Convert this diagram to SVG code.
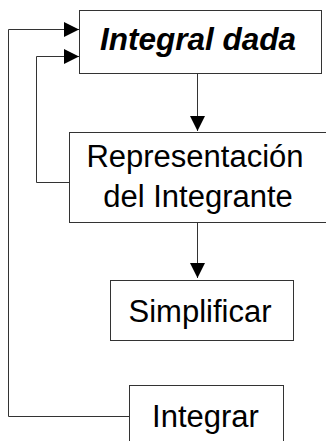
<svg xmlns="http://www.w3.org/2000/svg" width="326" height="441" viewBox="0 0 326 441">
<style>
.box{fill:#fff;stroke:#333;stroke-width:1}
.t{font-family:"Liberation Sans",Arial,sans-serif;font-size:31px;fill:#000;text-anchor:middle}
.b{font-weight:bold;font-style:italic;font-size:31.5px}
.c{fill:none;stroke:#333;stroke-width:1}
</style>
<defs>
<marker id="ah" markerWidth="15" markerHeight="15" refX="15" refY="7.5" orient="auto" markerUnits="userSpaceOnUse">
<path d="M0,0 L15,7.5 L0,15 Z" fill="#000"/>
</marker>
</defs>
<g id="n1"><rect class="box" x="79.5" y="10.5" width="242" height="63"/><text class="t b" x="198" y="50">Integral dada</text></g>
<g id="n2"><rect class="box" x="69.5" y="132.5" width="270" height="90"/><text class="t" x="195" y="167">Representación</text><text class="t" x="198" y="207">del Integrante</text></g>
<g id="n3"><rect class="box" x="110.5" y="280.5" width="183" height="60"/><text class="t" x="200" y="322">Simplificar</text></g>
<g id="n4"><rect class="box" x="129.5" y="385.5" width="154" height="70"/><text class="t" x="205.5" y="427">Integrar</text></g>
<g id="connectors">
<path class="c" d="M197.5,73.5 V131" marker-end="url(#ah)"/>
<path class="c" d="M197.5,222.5 V278" marker-end="url(#ah)"/>
<path class="c" d="M69.5,182.5 H36.5 V56.5 H79" marker-end="url(#ah)"/>
<path class="c" d="M129.5,416.5 H8.5 V29.5 H79" marker-end="url(#ah)"/>
</g>
</svg>
